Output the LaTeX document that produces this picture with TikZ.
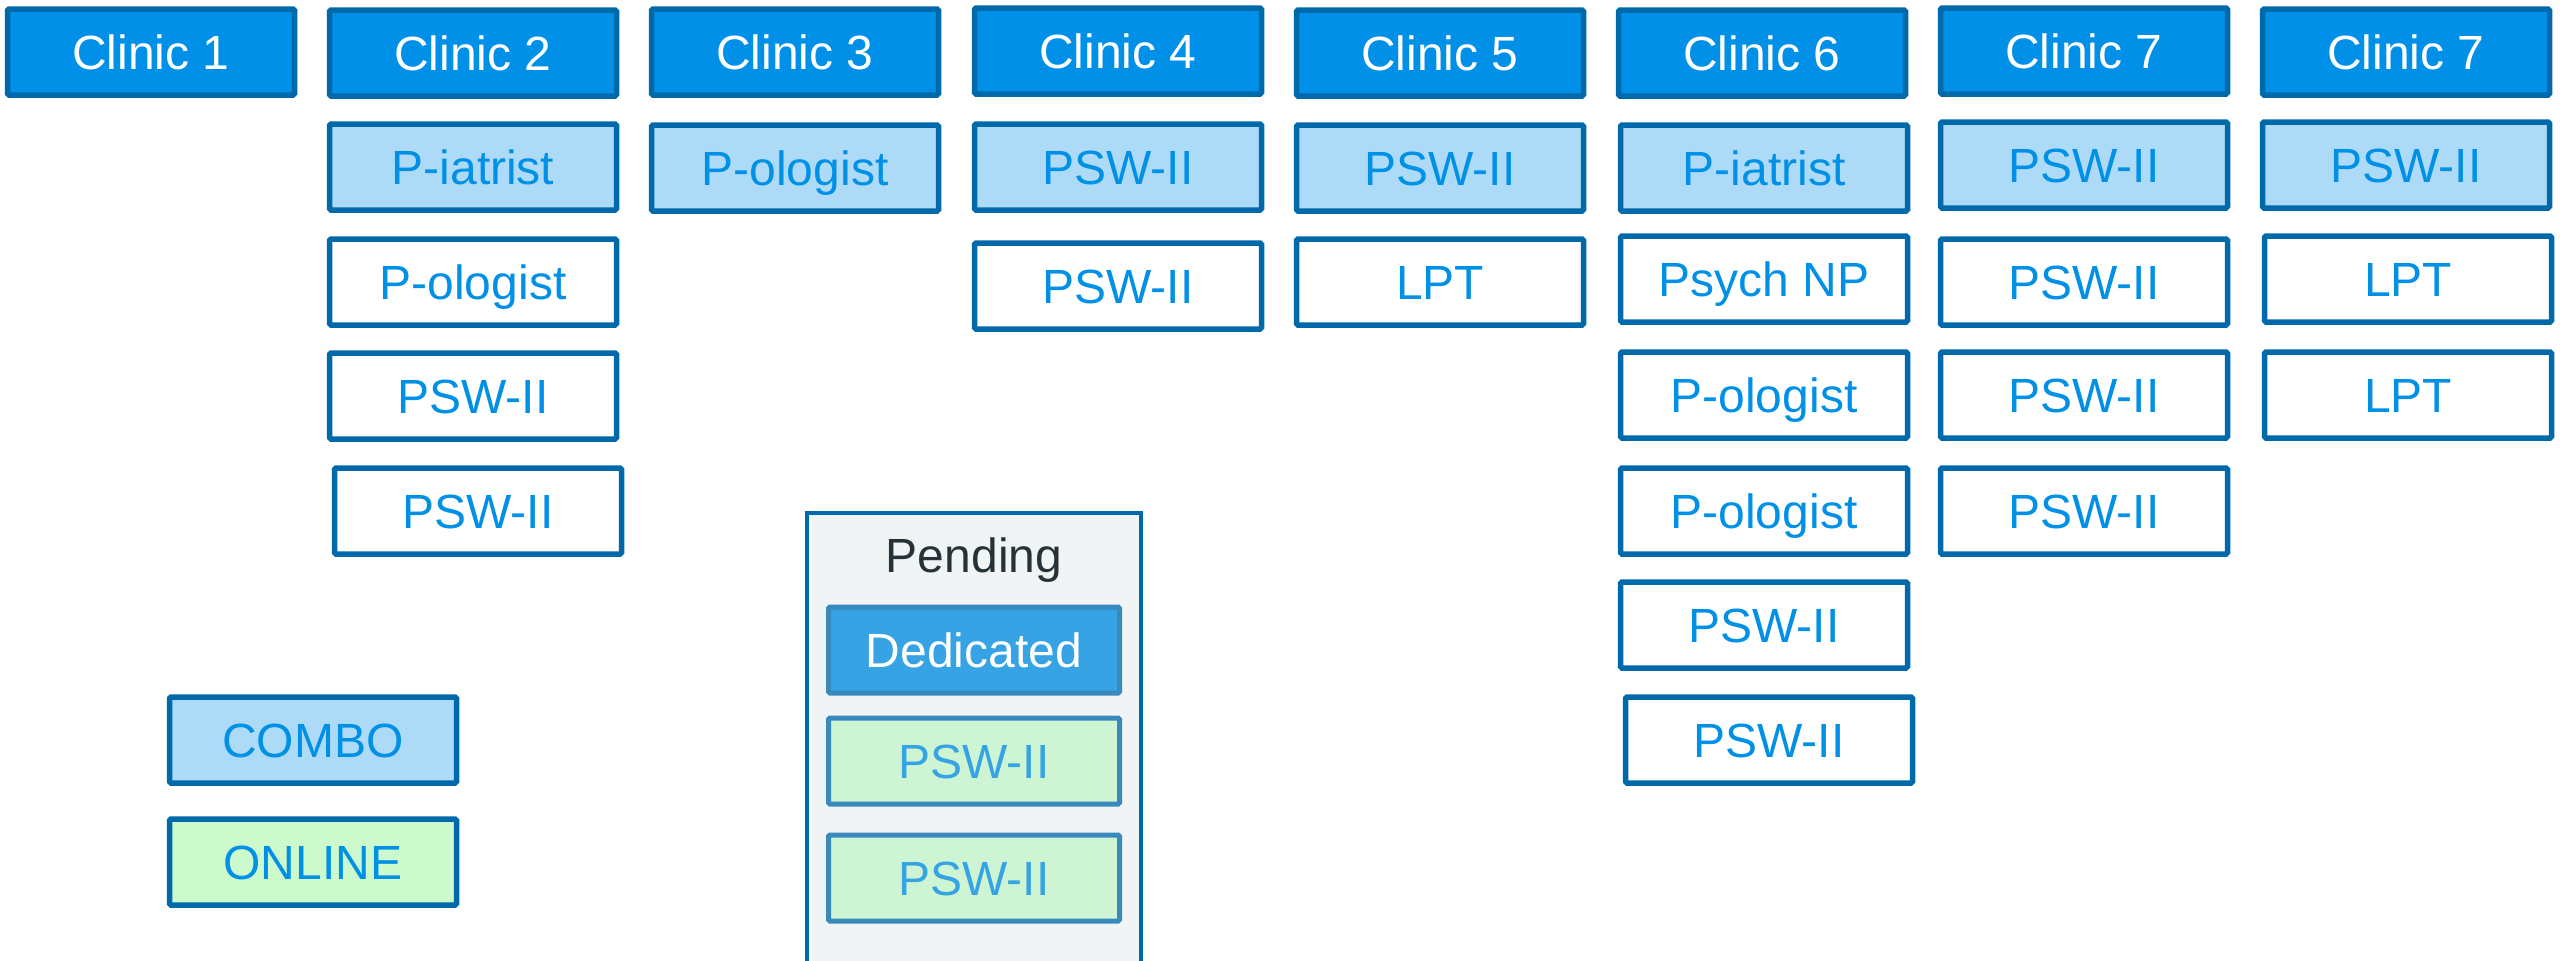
\documentclass[tikz,border=0pt]{standalone}
\usepackage{fontspec}
\setmainfont{Liberation Sans}

\definecolor{clinicblue}{RGB}{0,144,232}
\definecolor{edgeblue}{RGB}{0,105,170}
\definecolor{textblue}{RGB}{0,144,230}
\definecolor{combofill}{RGB}{173,219,247}
\definecolor{onlinefill}{RGB}{204,250,204}
\definecolor{pendback}{RGB}{240,244,245}
\definecolor{pendedge}{RGB}{58,137,189}
\definecolor{pendblue}{RGB}{54,163,228}
\definecolor{pendgreen}{RGB}{205,245,211}
\definecolor{pendtext}{RGB}{38,50,56}

\tikzset{
  box/.style={draw=edgeblue, line width=5.5pt, rounded corners=1.5pt,
    minimum width=287pt, minimum height=86pt, inner sep=0pt,
    text height=43pt, text depth=8.6pt,
    text=textblue, font=\fontsize{48}{58}\selectfont},
  clinic/.style={box, fill=clinicblue, text=white},
  combo/.style={box, fill=combofill},
  staff/.style={box, fill=white},
  online/.style={box, fill=onlinefill},
  pendbox/.style={box, draw=pendedge, line width=5pt, minimum width=291pt},
}

\begin{document}
\begin{tikzpicture}[x=1pt,y=1pt]
\useasboundingbox (0,0) rectangle (2560,-961);

\node[clinic] (clin1) at (151,-52) {Clinic 1};
\node[clinic] (clin2) at (473,-53) {Clinic 2};
\node[clinic] (clin3) at (795,-52) {Clinic 3};
\node[clinic] (clin4) at (1118,-51) {Clinic 4};
\node[clinic] (clin5) at (1440,-53) {Clinic 5};
\node[clinic] (clin6) at (1762,-53) {Clinic 6};
\node[clinic] (clin7) at (2084,-51) {Clinic 7};
\node[clinic] (clin8) at (2406,-52) {Clinic 7};

% clinic 2
\node[combo] (c2a) at (473,-167) {P-iatrist};
\node[staff] (c2b) at (473,-282) {P-ologist};
\node[staff] (c2c) at (473,-396) {PSW-II};
\node[staff] (c2d) at (478,-511) {PSW-II};

% clinic 3
\node[combo] (c3a) at (795,-168) {P-ologist};

% clinic 4
\node[combo] (c4a) at (1118,-167) {PSW-II};
\node[staff] (c4b) at (1118,-286) {PSW-II};

% clinic 5
\node[combo] (c5a) at (1440,-168) {PSW-II};
\node[staff] (c5b) at (1440,-282) {LPT};

% clinic 6
\node[combo] (c6a) at (1764,-168) {P-iatrist};
\node[staff] (c6b) at (1764,-279) {Psych NP};
\node[staff] (c6c) at (1764,-395) {P-ologist};
\node[staff] (c6d) at (1764,-511) {P-ologist};
\node[staff] (c6e) at (1764,-625) {PSW-II};
\node[staff] (c6f) at (1769,-740) {PSW-II};

% clinic 7
\node[combo] (c7a) at (2084,-165) {PSW-II};
\node[staff] (c7b) at (2084,-282) {PSW-II};
\node[staff] (c7c) at (2084,-395) {PSW-II};
\node[staff] (c7d) at (2084,-511) {PSW-II};

% clinic 7 (second)
\node[combo] (c8a) at (2406,-165) {PSW-II};
\node[staff] (c8b) at (2408,-279) {LPT};
\node[staff] (c8c) at (2408,-395) {LPT};

% legend
\node[combo] (leg1) at (313,-740) {COMBO};
\node[online] (leg2) at (313,-862) {ONLINE};

% pending
\draw[draw=edgeblue, fill=pendback, line width=4.5pt] (807,-513) rectangle (1141,-975);
\node[text=pendtext, font=\fontsize{48}{58}\selectfont] (pend) at (974,-560) {Pending};
\node[pendbox, fill=pendblue, text=white] (pend1) at (974,-650) {Dedicated};
\node[pendbox, fill=pendgreen, text=pendblue] (pend2) at (974,-761) {PSW-II};
\node[pendbox, fill=pendgreen, text=pendblue] (pend3) at (974,-878) {PSW-II};

\end{tikzpicture}
\end{document}
